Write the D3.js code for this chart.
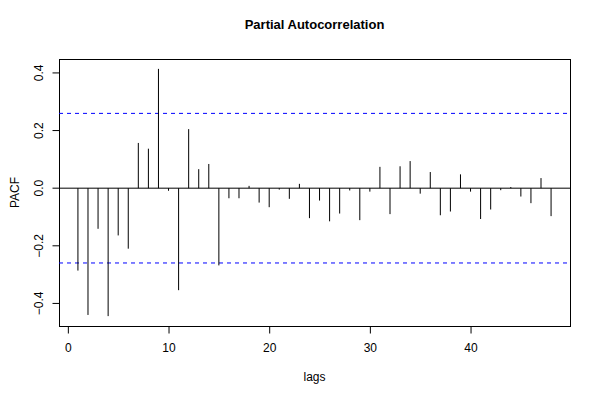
<!DOCTYPE html>
<html><head><meta charset="utf-8">
<script src="https://cdn.jsdelivr.net/npm/d3@7"></script>
<style>body{margin:0;background:#fff}svg{display:block;font-family:"Liberation Sans",Arial,Helvetica,sans-serif}</style>
</head><body>
<script>
const lags = d3.range(1, 49);
const pacfValues = [-0.286,-0.440,-0.141,-0.444,-0.164,-0.210,0.157,0.137,0.414,-0.009,
  -0.354,0.205,0.066,0.084,-0.268,-0.035,-0.035,0.008,-0.050,-0.066,
  -0.005,-0.037,0.015,-0.104,-0.043,-0.115,-0.088,-0.008,-0.111,-0.012,
  0.074,-0.090,0.076,0.094,-0.019,0.056,-0.094,-0.081,0.048,-0.012,
  -0.107,-0.074,-0.007,0.004,-0.029,-0.052,0.035,-0.097];
const confLimit = 0.2596;
const xTicks = [0,10,20,30,40];
const yTicks = [-0.4,-0.2,0.0,0.2,0.4];
const title = "Partial Autocorrelation";
const xLabel = "lags";
const yLabel = "PACF";

const W = 600, H = 400;
const L = 59, R = 570, T = 59, B = 326;
const svg = d3.select("body").append("svg").attr("width", W).attr("height", H);

const xr = d3.extent(lags), xpad = (xr[1]-xr[0])*0.04;
const yr = [Math.min(d3.min(pacfValues), -confLimit), Math.max(d3.max(pacfValues), confLimit)];
const ypad = (yr[1]-yr[0])*0.04;
const x = d3.scaleLinear().domain([xr[0]-xpad, xr[1]+xpad]).range([L, R]);
const y = d3.scaleLinear().domain([yr[0]-ypad, yr[1]+ypad]).range([B, T]);

// box
svg.append("rect").attr("x", L+0.5).attr("y", T+0.5).attr("width", R-L).attr("height", B-T)
  .attr("fill","none").attr("stroke","#000").attr("stroke-width",1);

// axes
const xAxis = d3.axisBottom(x).tickValues(xTicks).tickSize(7).tickPadding(10).tickFormat(d3.format("d"));
const gx = svg.append("g").attr("transform", `translate(0,${B+0.5})`).call(xAxis);
gx.select(".domain").attr("d", `M${x(0)},0H${x(40)}`);
gx.selectAll("text").attr("font-size", 12).attr("font-family", "inherit").attr("dy","0.71em");

const yAxis = d3.axisLeft(y).tickValues(yTicks).tickSize(7).tickFormat(d3.format(".1f"));
const gy = svg.append("g").attr("transform", `translate(${L+0.5},0)`).call(yAxis);
gy.select(".domain").attr("d", `M0,${y(-0.4)}V${y(0.4)}`);
gy.selectAll("text").attr("font-size", 12).attr("font-family", "inherit")
  .attr("text-anchor","middle").attr("dy", null).attr("x", null)
  .attr("transform", d => `translate(-16.5,${y(d)}) rotate(-90)`).attr("y", 0);
gy.selectAll(".tick").attr("transform", null);
gy.selectAll(".tick line").attr("y1", d => y(d)).attr("y2", d => y(d));

// zero line
svg.append("line").attr("x1", L).attr("x2", R).attr("y1", y(0)).attr("y2", y(0))
  .attr("stroke","#000").attr("stroke-width",1);

// confidence limits
[confLimit, -confLimit].forEach(c => {
  svg.append("line").attr("x1", L).attr("x2", R).attr("y1", y(c)).attr("y2", y(c))
    .attr("stroke","#0000ff").attr("stroke-width",1).attr("stroke-dasharray","4,4");
});

// spikes
svg.append("g").selectAll("line").data(lags).join("line")
  .attr("x1", (d) => x(d)).attr("x2", (d) => x(d))
  .attr("y1", y(0)).attr("y2", (d,i) => y(pacfValues[i]))
  .attr("stroke","#000").attr("stroke-width",1);

// labels
svg.append("text").attr("x", (L+R)/2).attr("y", 29).attr("text-anchor","middle")
  .attr("font-size", 13).attr("font-weight","bold").text(title);
svg.append("text").attr("x", (L+R)/2).attr("y", 381).attr("text-anchor","middle")
  .attr("font-size", 12).text(xLabel);
svg.append("text").attr("transform", `translate(19,${(T+B)/2}) rotate(-90)`).attr("text-anchor","middle")
  .attr("font-size", 12).text(yLabel);
</script>
</body></html>
